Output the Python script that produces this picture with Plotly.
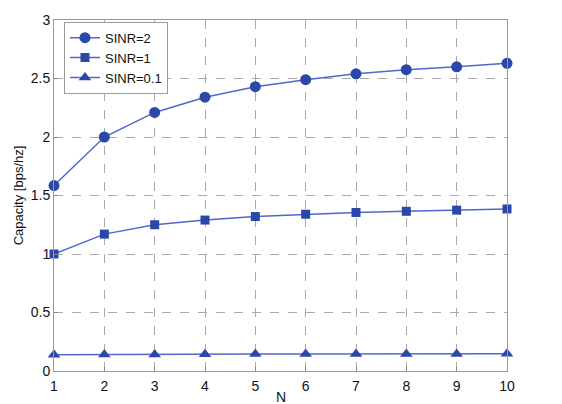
import plotly.graph_objects as go

N = [1, 2, 3, 4, 5, 6, 7, 8, 9, 10]
sinr2 = [1.585, 2.0, 2.21, 2.34, 2.43, 2.49, 2.54, 2.575, 2.60, 2.63]
sinr1 = [1.0, 1.17, 1.25, 1.29, 1.32, 1.34, 1.355, 1.365, 1.375, 1.385]
sinr01 = [0.138, 0.141, 0.142, 0.144, 0.145, 0.145, 0.146, 0.146, 0.146, 0.147]
names = ["SINR=2", "SINR=1", "SINR=0.1"]
symbols = ["circle", "square", "triangle-up"]

line_color = "#5068cc"
marker_color = "#2b47a8"

fig = go.Figure()
for ys, nm, sym in zip([sinr2, sinr1, sinr01], names, symbols):
    fig.add_trace(go.Scatter(
        x=N, y=ys, name=nm, mode="lines+markers",
        line=dict(color=line_color, width=1.5),
        marker=dict(symbol=sym, size=11 if sym != "square" else 9, color=marker_color),
        cliponaxis=False,
    ))

fam = "Liberation Sans, Arial, sans-serif"
fig.update_layout(
    width=562, height=404,
    margin=dict(l=54, r=55, t=20, b=33),
    paper_bgcolor="white", plot_bgcolor="white",
    font=dict(family=fam, size=14, color="#111"),
    showlegend=True,
    legend=dict(x=0.022, y=0.995, xanchor="left", yanchor="top",
                bgcolor="white", bordercolor="#999", borderwidth=1,
                font=dict(family=fam, size=13, color="#111"),
                tracegroupgap=0, itemwidth=30),
    annotations=[dict(text="N", x=0.5, y=-0.075, xref="paper", yref="paper",
                      xanchor="center", yanchor="middle", showarrow=False,
                      font=dict(family=fam, size=14, color="#111"))],
)
fig.update_xaxes(
    range=[1, 10], tickvals=N, ticks="inside", ticklen=4, tickcolor="#888",
    ticklabelstandoff=2, automargin=False,
    showgrid=True, gridcolor="#aaa", griddash="dash", gridwidth=1,
    showline=True, linecolor="#999", mirror=True, zeroline=False,
)
fig.update_yaxes(
    range=[0, 3], tickvals=[0, 0.5, 1, 1.5, 2, 2.5, 3],
    ticktext=["0", "0.5", "1", "1.5", "2", "2.5", "3"],
    ticks="inside", ticklen=4, tickcolor="#888", automargin=False,
    showgrid=True, gridcolor="#aaa", griddash="dash", gridwidth=1,
    showline=True, linecolor="#999", mirror=True, zeroline=False,
    title=dict(text="Capacity [bps/hz]", standoff=4, font=dict(size=13)),
)
fig.write_html("out.html")
